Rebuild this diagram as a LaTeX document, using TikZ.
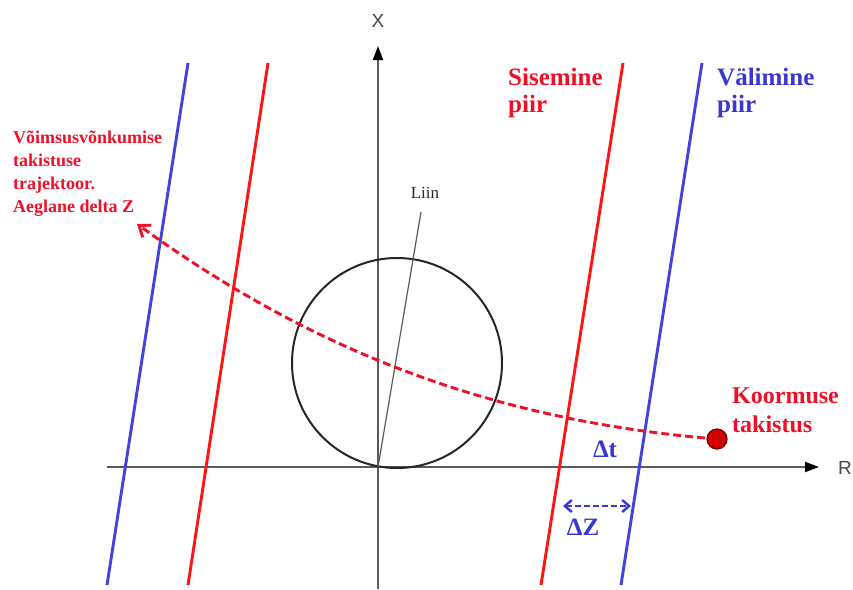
\documentclass[tikz,border=0pt]{standalone}
\usepackage{fontspec}
\setmainfont{Liberation Serif}
\newfontfamily\axisfont{Liberation Sans}
\usetikzlibrary{arrows.meta,calc}
\definecolor{inner}{HTML}{FF1414}
\definecolor{outer}{HTML}{4242DC}
\definecolor{labred}{HTML}{EE1028}
\definecolor{labblue}{HTML}{3838D0}
\definecolor{axisgray}{HTML}{5A5A5A}
\definecolor{loaddot}{HTML}{D20000}

\begin{document}
\begin{tikzpicture}[x=1pt, y=-1pt,
    bound/.style={line width=2.9pt},
    axisline/.style={axisgray, line width=2pt, -{Triangle[length=14pt,width=10pt,color=black]}},
    axislab/.style={font=\axisfont\fontsize{19}{19}\selectfont, text=axisgray!80!black, inner sep=0pt},
    redlab/.style={font=\bfseries\fontsize{25}{27}\selectfont, text=labred, align=left, anchor=north west, inner sep=0pt},
    bluelab/.style={font=\bfseries\fontsize{25}{27}\selectfont, text=labblue, align=left, anchor=north west, inner sep=0pt},
    deltalab/.style={font=\bfseries\fontsize{25}{25}\selectfont, text=labblue, inner sep=0pt}]
    \useasboundingbox (0,0) rectangle (853,589);

    % axes
    \coordinate (O) at (378,467);
    \coordinate (xbot) at (378,589);
    \coordinate (xtip) at (378,46);
    \coordinate (rleft) at (107,467);
    \coordinate (rtip) at (819,467);
    \draw[axisline] (xbot) -- (xtip);
    \draw[axisline] (rleft) -- (rtip);
    \node[axislab] (xlab) at (378,21) {X};
    \node[axislab] (rlab) at (845,468) {R};

    % impedance circle and line
    \node[circle, draw=black!85, line width=2pt, minimum size=210pt, inner sep=0pt] (circ) at (397,363) {};
    \coordinate (liintop) at (421,212);
    \draw[black!65, line width=1.2pt] (O) -- (liintop);
    \node[font=\fontsize{17}{17}\selectfont, text=black!85, inner sep=0pt] (liin) at (425,193) {Liin};

    % boundaries
    \foreach \tx/\bx/\c in {188/107/outer, 268/188/inner, 623/541/inner, 702/621/outer}
        \draw[\c, bound] (\tx,63) -- (\bx,585);

    % trajectory
    \coordinate (loadc) at (717,439);
    \coordinate (trajend) at (137,224);
    \draw[labred, line width=2.9pt, dash pattern=on 8pt off 4pt, -{Straight Barb[length=10pt,width=15pt]}]
        (loadc) .. controls (480,420) and (300,342) .. (trajend);
    \node[circle, fill=loaddot, draw=loaddot!55!black, line width=1.2pt, minimum size=20pt, inner sep=0pt] (load) at (loadc) {};

    % delta Z
    \coordinate (dzl) at (563,506);
    \coordinate (dzr) at (631,506);
    \draw[labblue, line width=2.4pt, dash pattern=on 6pt off 3pt, {Straight Barb[length=7pt,width=12pt]}-{Straight Barb[length=7pt,width=12pt]}] (dzl) -- (dzr);
    \node[deltalab] (dt) at (605,449) {Δt};
    \node[deltalab] (dz) at (583,527) {ΔZ};

    % labels
    \node[redlab] (sise) at (508,68) {Sisemine\\piir};
    \node[bluelab] (vali) at (717,68) {Välimine\\piir};
    \node[redlab, font=\bfseries\fontsize{24}{29}\selectfont] (koor) at (732,388) {Koormuse\\takistus};
    \node[redlab, font=\bfseries\fontsize{18}{23}\selectfont] (traj) at (13,131) {Võimsusvõnkumise\\takistuse\\trajektoor.\\Aeglane delta Z};
\end{tikzpicture}
\end{document}
